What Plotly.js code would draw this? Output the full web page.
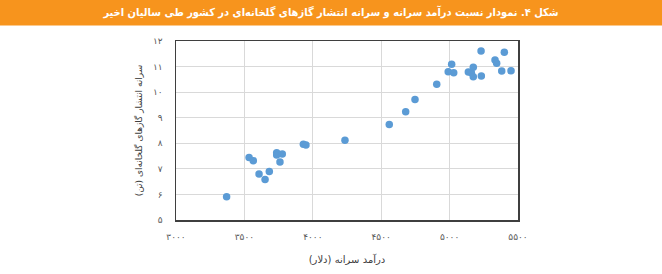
<!DOCTYPE html>
<html>
<head>
<meta charset="utf-8">
<script src="https://cdn.plot.ly/plotly-3.0.1.min.js"></script>
<style>html,body{margin:0;padding:0;background:#fff;}#chart{width:662px;height:274px;}</style>
</head>
<body>
<div id="chart"></div>
<script>
// Per-capita income (USD)
const incomeValues = [3370, 3534, 3565, 3607, 3651, 3682, 3736, 3736, 3777, 3760, 3931, 3950,
  4235, 4559, 4679, 4747, 4906, 4990, 5015, 5030, 5137, 5159, 5173, 5173, 5230, 5232,
  5332, 5344, 5381, 5400, 5449];
// Per-capita greenhouse gas emissions (tonnes)
const emissionValues = [5.91, 7.44, 7.32, 6.80, 6.58, 6.90, 7.63, 7.54, 7.58, 7.27, 7.96, 7.93,
  8.12, 8.73, 9.23, 9.71, 10.31, 10.80, 11.09, 10.76, 10.79, 10.76, 10.97, 10.60, 11.61, 10.63,
  11.26, 11.13, 10.83, 11.56, 10.84];

const xTickVals = [3000, 3500, 4000, 4500, 5000, 5500];
const xTickText = ['۳۰۰۰', '۳۵۰۰', '۴۰۰۰', '۴۵۰۰', '۵۰۰۰', '۵۵۰۰'];
const yTickVals = [5, 6, 7, 8, 9, 10, 11, 12];
const yTickText = ['۵', '۶', '۷', '۸', '۹', '۱۰', '۱۱', '۱۲'];

const chartTitle = 'شکل ۴. نمودار نسبت درآمد سرانه و سرانه انتشار گازهای گلخانه‌ای در کشور طی سالیان اخیر';
const xTitle = 'درآمد سرانه (دلار)';
const yTitle = 'سرانه انتشار گازهای گلخانه‌ای (تن)';

const fontFam = 'DejaVu Sans, Noto Sans, sans-serif';
const titleFam = 'DejaVu Sans Condensed, DejaVu Sans, sans-serif';
const W = 662, H = 274;
const m = {l: 176, r: 144, t: 41, b: 54};
const pw = W - m.l - m.r, ph = H - m.t - m.b;

const trace = {
  type: 'scatter', mode: 'markers',
  x: incomeValues, y: emissionValues,
  marker: {color: '#5B9BD5', size: 7.5, line: {width: 0}},
  hoverinfo: 'skip'
};

const layout = {
  width: W, height: H,
  margin: m,
  paper_bgcolor: '#ffffff', plot_bgcolor: '#ffffff',
  showlegend: false,
  title: {
    text: '<b>' + chartTitle + '</b>',
    font: {family: titleFam, size: 11, color: '#ffffff'},
    x: 0.5, xanchor: 'center', xref: 'container',
    y: 1 - 12.5 / H, yanchor: 'middle', yref: 'container'
  },
  shapes: [{
    type: 'rect', xref: 'paper', yref: 'paper', layer: 'below',
    x0: -m.l / pw, x1: 1 + m.r / pw,
    y0: 1 + (m.t - 25.5) / ph, y1: 1 + m.t / ph,
    fillcolor: '#F7941D', line: {width: 0}
  }],
  xaxis: {
    range: [3000, 5500],
    tickvals: xTickVals, ticktext: xTickText,
    tickfont: {family: fontFam, size: 9, color: '#595959'},
    ticks: '', ticklabelstandoff: 8,
    showgrid: true, gridcolor: '#d9d9d9', gridwidth: 1,
    zeroline: false,
    showline: true, linecolor: '#3f3f3f', linewidth: 1.5, mirror: true,
    title: {text: xTitle, font: {family: fontFam, size: 10, color: '#404040'}, standoff: 14}
  },
  yaxis: {
    range: [5, 12],
    tickvals: yTickVals, ticktext: yTickText,
    tickfont: {family: fontFam, size: 9, color: '#595959'},
    ticks: '', ticklabelstandoff: 10,
    showgrid: true, gridcolor: '#d9d9d9', gridwidth: 1,
    zeroline: false,
    showline: true, linecolor: '#3f3f3f', linewidth: 1.5, mirror: true,
    title: {text: yTitle, font: {family: fontFam, size: 9, color: '#404040'}, standoff: 9}
  }
};

Plotly.newPlot('chart', [trace], layout, {staticPlot: true, displayModeBar: false});
</script>
</body>
</html>
